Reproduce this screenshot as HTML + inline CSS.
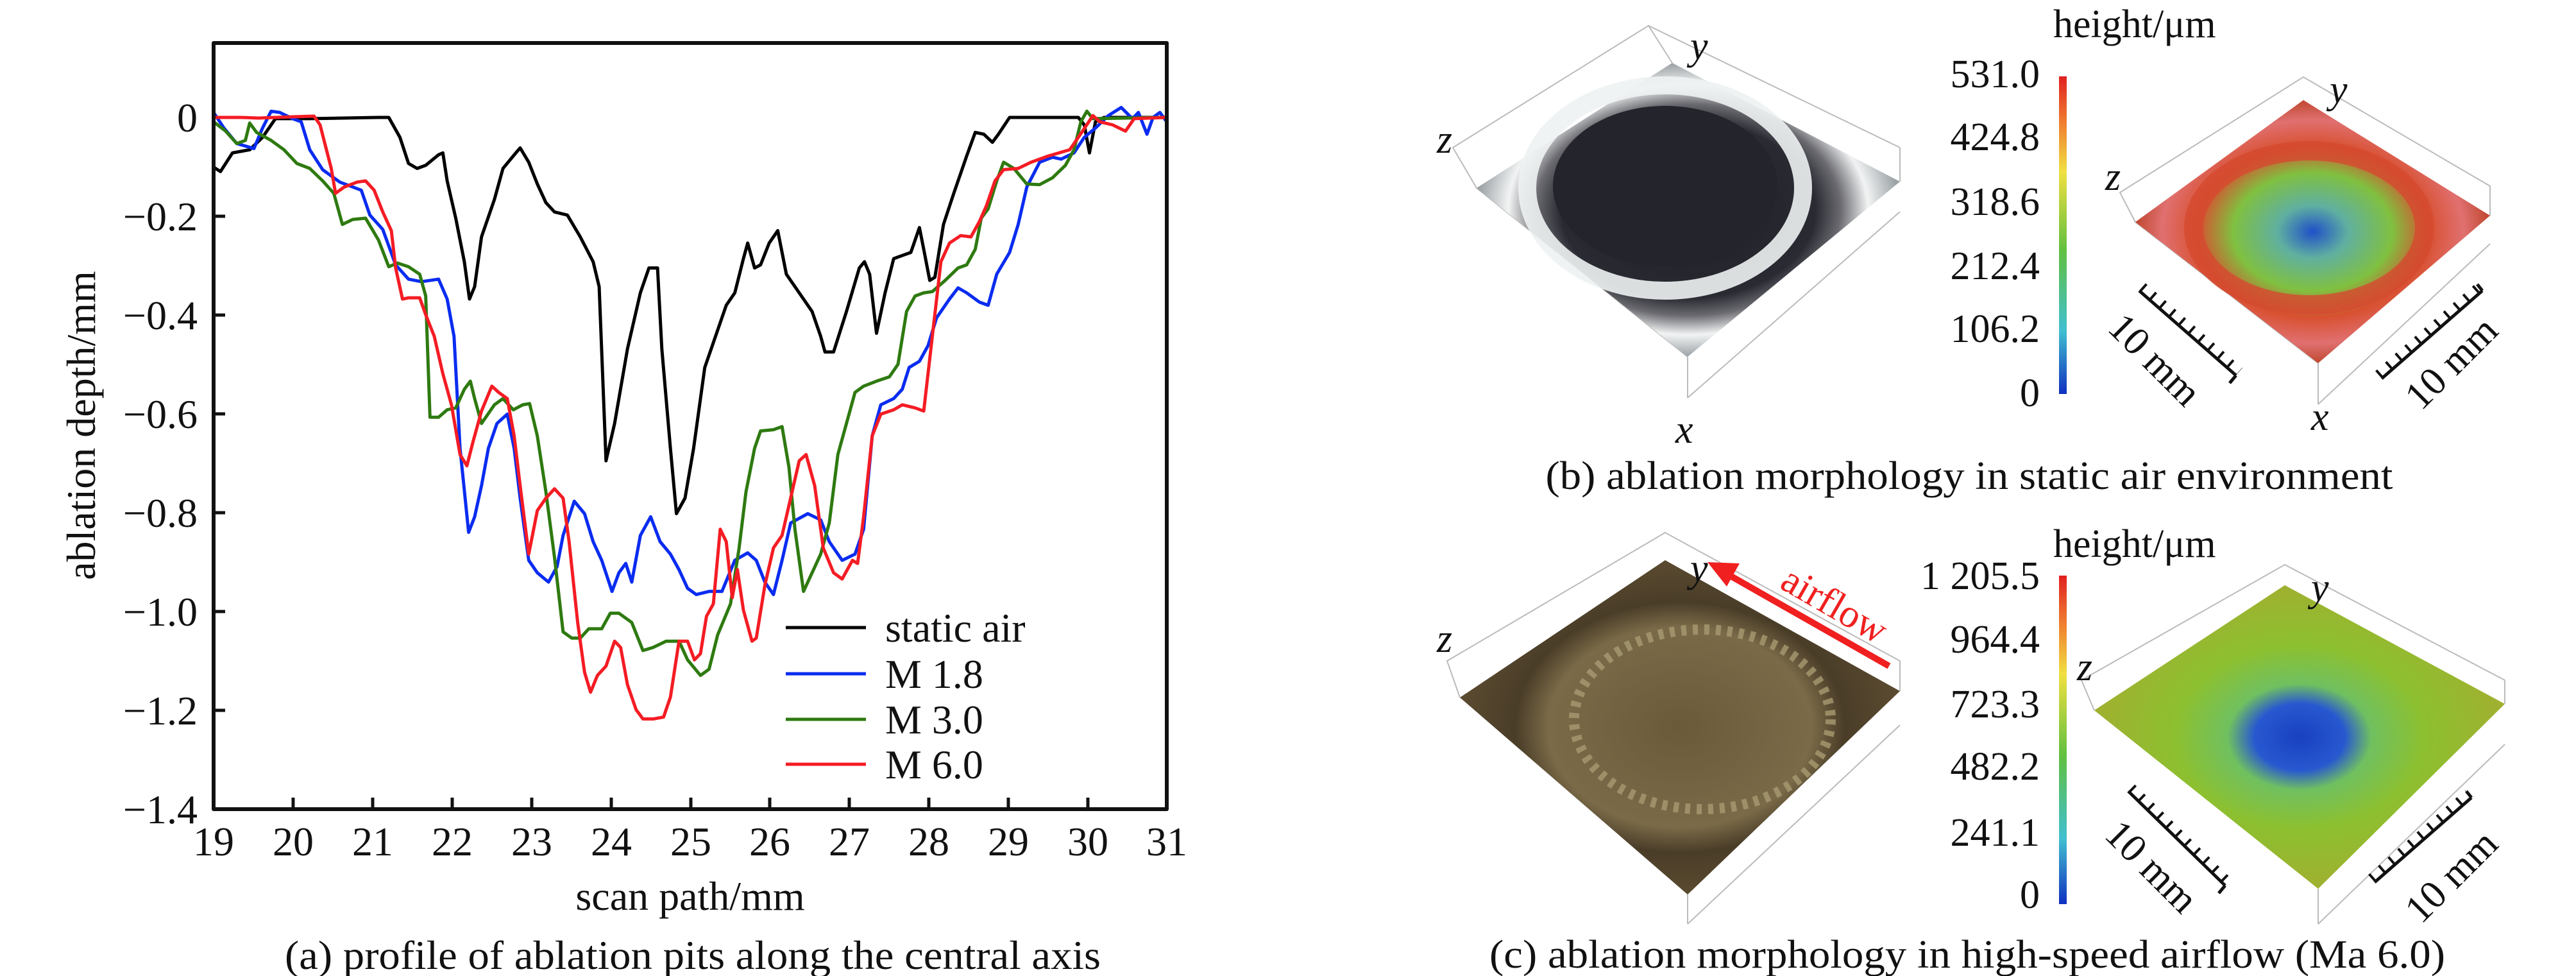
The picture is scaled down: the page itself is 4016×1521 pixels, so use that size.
<!DOCTYPE html>
<html><head><meta charset="utf-8"><style>
html,body{margin:0;padding:0;background:#fff}
svg{display:block;font-family:"Liberation Serif",serif}
</style></head><body>
<svg width="4016" height="1521" viewBox="0 0 4016 1521" xmlns="http://www.w3.org/2000/svg">
<defs>
<radialGradient id="gb" cx="50%" cy="50%" r="50%">
<stop offset="0" stop-color="#1c1c24"/><stop offset="0.6" stop-color="#2a2a33"/><stop offset="0.72" stop-color="#6a6a70"/><stop offset="0.85" stop-color="#f2f4f4"/><stop offset="1" stop-color="#9aa0a4"/>
</radialGradient>
<radialGradient id="hb" cx="50%" cy="50%" r="50%">
<stop offset="0" stop-color="#2050c8"/><stop offset="0.2" stop-color="#60b0a0"/><stop offset="0.45" stop-color="#80c040"/><stop offset="0.65" stop-color="#d85030"/><stop offset="0.85" stop-color="#e07070"/><stop offset="1" stop-color="#c04830"/>
</radialGradient>
<radialGradient id="gc" cx="50%" cy="50%" r="50%">
<stop offset="0" stop-color="#6a5a3a"/><stop offset="0.6" stop-color="#7a6a48"/><stop offset="0.75" stop-color="#4a3d28"/><stop offset="1" stop-color="#5a4a30"/>
</radialGradient>
<radialGradient id="hc" cx="50%" cy="50%" r="50%">
<stop offset="0" stop-color="#1840c0"/><stop offset="0.22" stop-color="#2858d0"/><stop offset="0.35" stop-color="#70c060"/><stop offset="0.6" stop-color="#8cc030"/><stop offset="1" stop-color="#a0b030"/>
</radialGradient>
<linearGradient id="cb" x1="0" y1="1" x2="0" y2="0">
<stop offset="0" stop-color="#1030c0"/><stop offset="0.2" stop-color="#40c0d0"/><stop offset="0.45" stop-color="#60c040"/><stop offset="0.7" stop-color="#f0e040"/><stop offset="0.85" stop-color="#f08030"/><stop offset="1" stop-color="#e02020"/>
</linearGradient>
</defs>

<!-- Panel a -->
<g fill="none" stroke-linejoin="round">
<g transform="matrix(1.3387,0,0,0.9694,1,0.75)" stroke-width="5">
<polyline vector-effect="non-scaling-stroke" stroke="#000" points="248,268 256,275 270,245 290,240 305,220 320,190 360,190 440,188 452,188 465,220 475,262 485,270 495,265 510,248 515,245 520,290 530,350 540,420 546,480 552,460 560,380 575,320 585,270 600,245 605,237 615,260 625,295 635,325 645,340 660,345 675,380 690,420 697,460 705,740 715,680 730,560 745,470 755,430 765,430 770,560 780,720 787,825 797,800 807,720 820,590 830,550 845,490 855,470 865,415 870,390 878,430 885,425 895,390 905,370 915,440 930,470 945,500 955,540 960,565 970,565 985,500 1000,430 1006,420 1012,440 1020,535 1030,470 1040,415 1050,410 1060,405 1070,365 1075,400 1082,450 1088,445 1098,360 1110,310 1125,250 1135,212 1145,215 1155,228 1162,215 1175,188 1255,188 1262,200 1268,245 1275,195 1285,188 1358,188"/>
<polyline vector-effect="non-scaling-stroke" stroke="#0a2cf0" points="248,180 260,205 275,230 295,238 305,205 315,178 325,180 340,190 350,195 360,240 375,272 395,292 420,305 430,345 445,368 460,425 475,448 490,452 510,448 520,480 528,540 535,720 545,855 552,830 560,780 568,720 578,680 590,665 598,720 605,800 615,900 625,920 638,935 648,910 655,860 668,805 680,825 690,870 700,900 712,950 720,920 728,905 735,935 745,860 757,830 768,870 780,890 790,915 800,945 810,955 825,950 840,950 855,900 870,888 880,900 890,935 900,955 910,900 920,840 940,825 955,835 965,870 980,900 995,890 1005,850 1015,700 1025,650 1040,640 1050,625 1058,590 1070,580 1080,555 1090,510 1105,480 1115,462 1125,470 1140,485 1150,490 1160,440 1175,405 1185,360 1195,300 1210,260 1225,252 1235,255 1250,245 1262,220 1275,205 1290,185 1305,172 1318,190 1325,180 1335,215 1342,188 1350,180 1358,195"/>
<polyline vector-effect="non-scaling-stroke" stroke="#2e7a10" points="248,195 262,210 275,230 285,225 290,197 298,212 315,225 330,240 345,262 360,270 375,290 388,310 398,360 410,352 425,350 440,385 452,428 462,422 475,428 488,440 495,475 500,670 510,670 520,658 530,655 540,625 547,612 552,640 560,680 575,650 585,640 597,658 608,650 616,648 625,700 635,790 645,895 655,1015 665,1025 675,1025 685,1010 700,1010 710,985 720,985 735,1000 748,1045 760,1040 775,1030 790,1030 800,1060 815,1085 825,1075 835,1020 850,970 860,880 868,790 878,720 885,692 900,690 910,685 918,750 925,850 935,950 945,920 955,890 965,840 975,730 985,680 995,630 1005,620 1020,612 1035,605 1045,585 1055,500 1065,475 1075,470 1085,468 1100,450 1115,430 1125,425 1135,400 1142,350 1150,335 1160,290 1168,260 1180,270 1195,295 1210,296 1225,285 1240,265 1250,240 1258,195 1265,178 1272,190 1358,188"/>
<polyline vector-effect="non-scaling-stroke" stroke="#f41c24" points="248,188 280,188 300,189 340,187 365,186 372,200 385,270 390,310 400,300 415,292 425,290 435,305 445,340 455,370 460,430 468,480 475,478 488,478 495,505 505,540 515,600 525,650 535,730 543,748 550,710 560,660 572,620 580,630 590,640 598,700 605,780 615,890 625,820 635,800 645,785 655,800 662,870 672,1000 680,1080 687,1112 695,1085 705,1070 715,1030 722,1040 730,1100 740,1140 748,1155 760,1155 772,1152 780,1120 790,1030 800,1030 808,1060 815,1050 822,990 830,970 838,850 845,870 852,960 858,915 865,980 875,1030 880,1025 890,940 900,880 910,860 920,800 930,740 938,730 948,780 958,880 970,920 980,930 992,900 998,905 1005,830 1015,700 1025,665 1040,658 1050,650 1065,655 1075,660 1085,540 1095,420 1105,390 1118,378 1130,380 1140,355 1148,330 1158,290 1168,272 1185,270 1200,260 1220,250 1245,240 1260,210 1272,185 1280,195 1295,200 1310,210 1320,190 1358,188"/>
</g>
<rect x="333" y="67" width="1486" height="1194" stroke="#111" stroke-width="6"/>
<g stroke="#111" stroke-width="5">
<line x1="333" y1="337" x2="351" y2="337"/><line x1="333" y1="491" x2="351" y2="491"/><line x1="333" y1="645" x2="351" y2="645"/><line x1="333" y1="799" x2="351" y2="799"/><line x1="333" y1="953" x2="351" y2="953"/><line x1="333" y1="1107" x2="351" y2="1107"/>
<line x1="457" y1="1261" x2="457" y2="1243"/><line x1="581" y1="1261" x2="581" y2="1243"/><line x1="705" y1="1261" x2="705" y2="1243"/><line x1="829" y1="1261" x2="829" y2="1243"/><line x1="953" y1="1261" x2="953" y2="1243"/><line x1="1077" y1="1261" x2="1077" y2="1243"/><line x1="1200" y1="1261" x2="1200" y2="1243"/><line x1="1324" y1="1261" x2="1324" y2="1243"/><line x1="1448" y1="1261" x2="1448" y2="1243"/><line x1="1572" y1="1261" x2="1572" y2="1243"/><line x1="1696" y1="1261" x2="1696" y2="1243"/>
</g>
<g stroke-width="5">
<line x1="1225" y1="978" x2="1350" y2="978" stroke="#000"/>
<line x1="1225" y1="1050" x2="1350" y2="1050" stroke="#0a2cf0"/>
<line x1="1225" y1="1121" x2="1350" y2="1121" stroke="#2e7a10"/>
<line x1="1225" y1="1191" x2="1350" y2="1191" stroke="#f41c24"/>
</g>
</g>
<g font-size="64" fill="#111">
<g text-anchor="end">
<text x="308" y="205">0</text><text x="308" y="359">−0.2</text><text x="308" y="513">−0.4</text><text x="308" y="667">−0.6</text><text x="308" y="821">−0.8</text><text x="308" y="975">−1.0</text><text x="308" y="1129">−1.2</text><text x="308" y="1283">−1.4</text>
</g>
<g text-anchor="middle">
<text x="333" y="1333">19</text><text x="457" y="1333">20</text><text x="581" y="1333">21</text><text x="705" y="1333">22</text><text x="829" y="1333">23</text><text x="953" y="1333">24</text><text x="1077" y="1333">25</text><text x="1200" y="1333">26</text><text x="1324" y="1333">27</text><text x="1448" y="1333">28</text><text x="1572" y="1333">29</text><text x="1696" y="1333">30</text><text x="1819" y="1333">31</text>
<text x="1076" y="1418">scan path/mm</text>
<text x="1080" y="1510" textLength="1272" lengthAdjust="spacingAndGlyphs">(a) profile of ablation pits along the central axis</text>
<text transform="translate(148,663) rotate(-90)">ablation depth/mm</text>
</g>
<text x="1380" y="1000">static air</text><text x="1380" y="1072">M 1.8</text><text x="1380" y="1143">M 3.0</text><text x="1380" y="1213">M 6.0</text>
</g>

<!-- Panel b -->
<g stroke="#bbb" stroke-width="2" fill="none">
<polyline points="2302,293 2265,230 2570,40 2607,98"/><line x1="2570" y1="40" x2="2962" y2="230"/><line x1="2962" y1="230" x2="2962" y2="283"/><line x1="2302" y1="293" x2="2631" y2="556"/><line x1="2631" y1="556" x2="2631" y2="620"/><line x1="2631" y1="620" x2="2962" y2="330"/>
<polyline points="3329,346 3305,300 3591,120 3882,290 3882,336"/><line x1="3329" y1="346" x2="3614" y2="566"/><line x1="3614" y1="566" x2="3614" y2="630"/><line x1="3614" y1="630" x2="3882" y2="380"/>
<polyline points="2276,1087 2256,1030 2596,830 2962,1030 2962,1077"/><line x1="2631" y1="1394" x2="2631" y2="1440"/><line x1="2631" y1="1440" x2="2962" y2="1130"/>
<polyline points="3265,1107 3245,1060 3562,880 3905,1060 3905,1097"/><line x1="3614" y1="1385" x2="3614" y2="1440"/><line x1="3614" y1="1440" x2="3905" y2="1160"/>
</g>
<polygon points="2302,293 2607,98 2962,283 2631,556" fill="url(#gb)"/>
<ellipse cx="2596" cy="293" rx="215" ry="160" fill="none" stroke="#eef2f2" stroke-width="28" opacity="0.9"/>
<ellipse cx="2596" cy="290" rx="175" ry="125" fill="#24242c"/>
<polygon points="3329,346 3591,156 3882,336 3614,566" fill="url(#hb)"/>
<ellipse cx="3600" cy="355" rx="180" ry="120" fill="none" stroke="#d44a30" stroke-width="30" opacity="0.8"/>
<polygon points="2276,1087 2596,873 2962,1077 2631,1394" fill="url(#gc)"/>
<ellipse cx="2654" cy="1121" rx="200" ry="140" fill="none" stroke="#a89a70" stroke-width="16" stroke-dasharray="8 10" opacity="0.8"/>
<polygon points="3265,1107 3562,912 3905,1097 3614,1385" fill="url(#hc)"/>

<rect x="3210" y="119" width="12" height="495" fill="url(#cb)"/>
<rect x="3210" y="897" width="12" height="512" fill="url(#cb)"/>

<!-- rulers -->
<g stroke="#111" stroke-width="5" fill="none">
<path d="M3335,453 L3486,585 M3486,585 L3476,597"/>
<path d="M3713,590 L3870,453 M3870,453 L3862,443"/>
<path d="M3318,1233 L3469,1380 M3469,1380 L3459,1392"/>
<path d="M3702,1375 L3853,1243 M3853,1243 L3845,1233"/>
</g>
<g stroke="#111" stroke-width="15" stroke-dasharray="4 16" fill="none">
<line x1="3340" y1="447" x2="3491" y2="579"/>
<line x1="3708" y1="584" x2="3865" y2="447"/>
<line x1="3323" y1="1228" x2="3474" y2="1375"/>
<line x1="3697" y1="1369" x2="3848" y2="1237"/>
</g>
<line x1="2945" y1="1038" x2="2690" y2="893" stroke="#f02020" stroke-width="10"/>
<polygon points="2662,876 2712,878 2692,914" fill="#f02020"/>

<g font-size="62" fill="#111">
<g font-style="italic">
<text x="2240" y="238">z</text><text x="2635" y="92">y</text><text x="2612" y="690">x</text>
<text x="3282" y="296">z</text><text x="3632" y="160">y</text><text x="3603" y="670">x</text>
<text x="2240" y="1016">z</text><text x="2635" y="906">y</text>
<text x="3238" y="1060">z</text><text x="3603" y="936">y</text>
</g>
<text x="3201" y="58">height/μm</text>
<text x="3201" y="868">height/μm</text>
<g text-anchor="end">
<text x="3180" y="136">531.0</text><text x="3180" y="234">424.8</text><text x="3180" y="335">318.6</text><text x="3180" y="435">212.4</text><text x="3180" y="533">106.2</text><text x="3180" y="633">0</text>
<text x="3180" y="918">1 205.5</text><text x="3180" y="1017">964.4</text><text x="3180" y="1118">723.3</text><text x="3180" y="1215">482.2</text><text x="3180" y="1318">241.1</text><text x="3180" y="1415">0</text>
</g>
<g text-anchor="middle">
<text transform="translate(3345,575) rotate(45)">10 mm</text>
<text transform="translate(3836,580) rotate(-45)">10 mm</text>
<text transform="translate(3340,1365) rotate(45)">10 mm</text>
<text transform="translate(3836,1380) rotate(-45)">10 mm</text>
<text transform="translate(2850,960) rotate(30)" fill="#f02020">airflow</text>
<text x="3070" y="762" textLength="1321" lengthAdjust="spacingAndGlyphs">(b) ablation morphology in static air environment</text>
<text x="3067" y="1508" textLength="1490" lengthAdjust="spacingAndGlyphs">(c) ablation morphology in high-speed airflow (Ma 6.0)</text>
</g>
</g>
</svg>
</body></html>
